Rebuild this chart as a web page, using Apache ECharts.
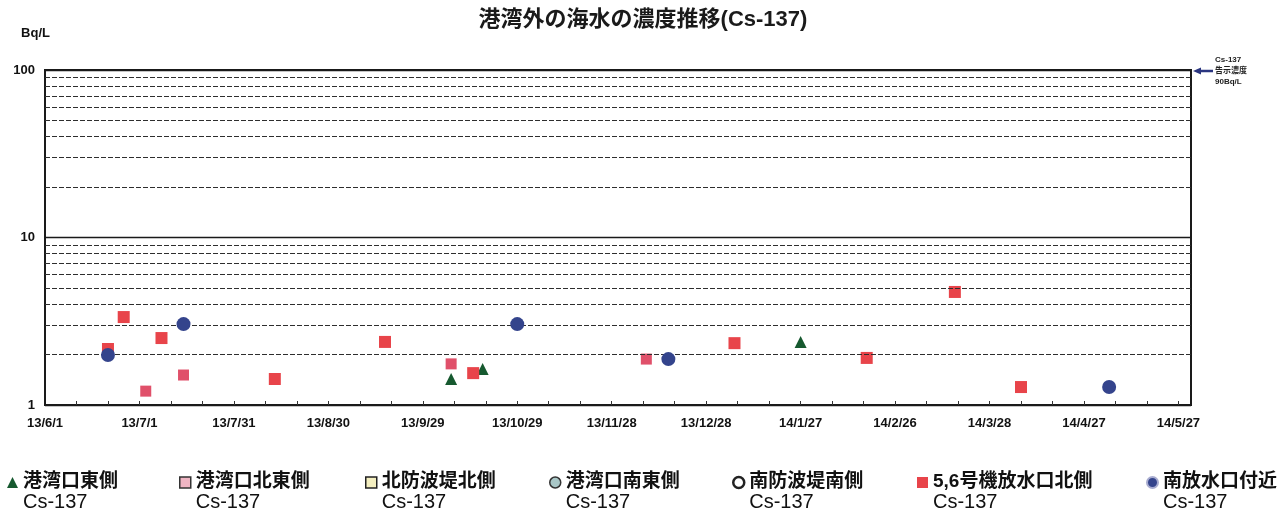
<!DOCTYPE html>
<html><head><meta charset="utf-8">
<script src="https://cdn.jsdelivr.net/npm/echarts@6/dist/echarts.min.js"></script>
<style>html,body{margin:0;padding:0;background:#fff}#c{width:1286px;height:515px}</style>
</head><body><div id="c"></div>
<script>
// ---- data ----
const seriesNames = ['港湾口東側','港湾口北東側','北防波堤北側','港湾口南東側','南防波堤南側','5,6号機放水口北側','南放水口付近'];

const eastDates = ['2013-10-08','2013-10-18','2014-01-27'];
const eastValues = [1.43, 1.64, 2.38];

const northEastDates = ['2013-07-03','2013-07-15','2013-10-08','2013-12-09'];
const northEastValues = [1.21, 1.51, 1.76, 1.88];

const northBreakwaterDates = [];
const northBreakwaterValues = [];

const southEastDates = [];
const southEastValues = [];

const southBreakwaterDates = [];
const southBreakwaterValues = [];

const unit56Dates = ['2013-06-21','2013-06-26','2013-07-08','2013-08-13','2013-09-17','2013-10-15','2014-01-06','2014-02-17','2014-03-17','2014-04-07'];
const unit56Values = [2.16, 3.35, 2.51, 1.43, 2.38, 1.55, 2.34, 1.91, 4.73, 1.28];

const southOutletDates = ['2013-06-21','2013-07-15','2013-10-29','2013-12-16','2014-05-05'];
const southOutletValues = [1.99, 3.04, 3.04, 1.88, 1.28];

const xTickLabels = ['13/6/1','13/7/1','13/7/31','13/8/30','13/9/29','13/10/29','13/11/28','13/12/28','14/1/27','14/2/26','14/3/28','14/4/27','14/5/27'];
const yTickLabels = ['1','10','100'];
const minorGridValues = [2,3,4,5,6,7,8,9,20,30,40,50,60,70,80,90];

// ---- helpers ----
const FONT = '"Liberation Sans", "Noto Sans CJK JP", sans-serif';
const dayMs = 86400000;
function parseLabel(s){ const p = s.split('/').map(Number); return Date.UTC(2000+p[0], p[1]-1, p[2]); }
function parseIso(s){ const p = s.split('-').map(Number); return Date.UTC(p[0], p[1]-1, p[2]); }
function pair(d, v){ return d.map((x,i)=>[parseIso(x), v[i]]); }
const labelValues = xTickLabels.map(parseLabel);
const minorTickValues = [];
for (let t = labelValues[0] + 10*dayMs; t <= labelValues[labelValues.length-1]; t += 10*dayMs) minorTickValues.push(t);
function fmt(v){ const d = new Date(v); return (d.getUTCFullYear()%100)+'/'+(d.getUTCMonth()+1)+'/'+d.getUTCDate(); }

const seriesData = [
  pair(eastDates, eastValues),
  pair(northEastDates, northEastValues),
  pair(northBreakwaterDates, northBreakwaterValues),
  pair(southEastDates, southEastValues),
  pair(southBreakwaterDates, southBreakwaterValues),
  pair(unit56Dates, unit56Values),
  pair(southOutletDates, southOutletValues)
];
const symbols = ['triangle','rect','rect','circle','circle','rect','circle'];
const sizes = [12, 11, 11, 12, 12, 12, 14];
const markerStyles = [
  {color:'#16592f', opacity:1},
  {color:'#e0506a', opacity:1},
  {color:'#f4efc0', borderColor:'#222', borderWidth:1, opacity:1},
  {color:'#a9c7c7', borderColor:'#333', borderWidth:1, opacity:1},
  {color:'#ffffff', borderColor:'#222', borderWidth:2, opacity:1},
  {color:'#e8444a', opacity:1},
  {color:'#34448c', opacity:1}
];
const legendStyles = [
  {color:'#16592f'},
  {color:'#f0b5c3', borderColor:'#333', borderWidth:1.5},
  {color:'#f4efc0', borderColor:'#222', borderWidth:1.5},
  {color:'#a9c7c7', borderColor:'#333', borderWidth:1.5},
  {color:'#ffffff', borderColor:'#222', borderWidth:2.5},
  {color:'#e8444a'},
  {color:'#34448c', borderColor:'#a8acd0', borderWidth:2}
];
const legendLefts = [7, 179, 365, 549, 732, 917, 1146];

const series = seriesNames.map((n,i)=>({
  name:n, type:'scatter', data:seriesData[i], symbol:symbols[i], symbolSize:sizes[i],
  itemStyle:markerStyles[i], z: 3 + (i===6 ? 2 : 0), animation:false
}));
series.unshift({
  name:'grid', type:'scatter', data:[], silent:true, animation:false,
  markLine:{ silent:true, symbol:'none', animation:false, label:{show:false},
    lineStyle:{type:[5,2], color:'#2e2e2e', width:1},
    data: minorGridValues.map(v=>({yAxis:v})) }
});

const option = {
  backgroundColor:'#fff',
  animation:false,
  title:{ text:'港湾外の海水の濃度推移(Cs-137)', left:'center', top:4,
    textStyle:{fontSize:22, fontWeight:'bold', color:'#1a1a1a', fontFamily:FONT} },
  grid:{ left:45, right:95, top:70, bottom:110, show:true, borderColor:'#1a1a1a', borderWidth:2 },
  xAxis:{ type:'value', min:labelValues[0], max:labelValues[labelValues.length-1] + 4*dayMs,
    axisLine:{show:true, lineStyle:{color:'#1a1a1a', width:2}},
    axisTick:{show:true, inside:true, length:4, customValues:minorTickValues, lineStyle:{color:'#333'}},
    axisLabel:{ customValues:labelValues, formatter:fmt, margin:12,
      fontSize:13, fontWeight:'bold', color:'#111', fontFamily:FONT, hideOverlap:false },
    splitLine:{show:false}, minorTick:{show:false}
  },
  yAxis:{ type:'log', logBase:10, min:1, max:100,
    name:'Bq/L', nameLocation:'end', nameGap:30,
    nameTextStyle:{fontSize:13, fontWeight:'bold', color:'#111', fontFamily:FONT, align:'right', padding:[0,-5,0,0]},
    axisLine:{show:true, lineStyle:{color:'#1a1a1a', width:2}},
    axisTick:{show:false},
    axisLabel:{ margin:10, fontSize:13, fontWeight:'bold', color:'#111', fontFamily:FONT,
      formatter:(v)=>{ const s = String(Math.round(v)); return yTickLabels.indexOf(s)>=0 ? s : ''; } },
    splitLine:{show:true, lineStyle:{color:'#1a1a1a', width:1.3, type:'solid'}}
  },
  legend: seriesNames.map((n,i)=>({
    data:[{name:n, icon:symbols[i], itemStyle:legendStyles[i]}],
    left:legendLefts[i], top:457, padding:0, itemWidth:11, itemHeight:11, itemGap:0,
    selectedMode:false,
    formatter:(name)=>'{e| }\n{a|'+name+'}\n{b|Cs-137}',
    textStyle:{ fontFamily:FONT, color:'#111',
      rich:{ e:{fontSize:10, lineHeight:20},
             a:{fontSize:19, fontWeight:'bold', lineHeight:20, color:'#111', fontFamily:FONT},
             b:{fontSize:20, lineHeight:21, color:'#111', fontFamily:FONT} } }
  })),
  graphic:[
    {type:'text', left:1215, top:54, style:{text:'Cs-137\n告示濃度\n90Bq/L', font:'bold 8px '+FONT, lineHeight:11, fill:'#222'}},
    {type:'line', shape:{x1:1213,y1:71,x2:1198,y2:71}, style:{stroke:'#2a3580', lineWidth:2.5}},
    {type:'polygon', shape:{points:[[1193,71],[1201,67.5],[1201,74.5]]}, style:{fill:'#2a3580'}}
  ],
  series: series
};
const chart = echarts.init(document.getElementById('c'), null, {renderer:'canvas'});
chart.setOption(option);
</script>
</body></html>
